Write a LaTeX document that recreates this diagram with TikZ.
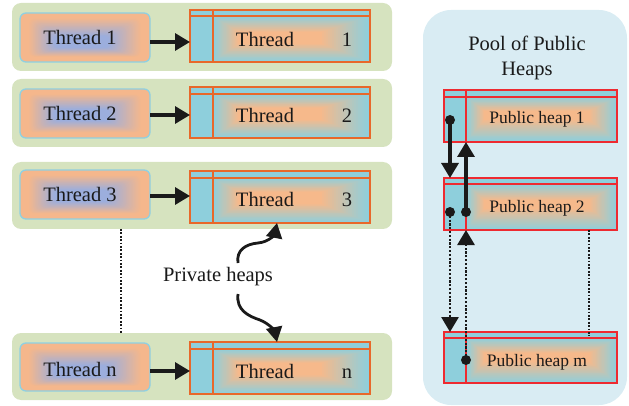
\documentclass[tikz,border=0pt]{standalone}
\usepackage{fontspec}
\setmainfont{Liberation Serif}
\usetikzlibrary{arrows.meta}
\definecolor{rowgreen}{HTML}{D6E3BF}
\definecolor{tor}{HTML}{F5B78C}
\definecolor{tbl}{HTML}{9CAEDD}
\definecolor{tedge}{HTML}{8FD0E2}
\definecolor{hbl}{HTML}{8ECFDC}
\definecolor{hor}{HTML}{F6B98B}
\definecolor{hedge}{HTML}{E8682A}
\definecolor{pedge}{HTML}{EE2A30}
\definecolor{pool}{HTML}{D9ECF3}
\definecolor{ink}{HTML}{1A1A1A}
\newcommand\gbox[9][]{%
  \foreach \gi in {0,...,24}{%
    \pgfmathsetmacro\gt{\gi/24}%
    \pgfmathsetmacro\gax{#2+((#6)-(#2))*\gt}%
    \pgfmathsetmacro\gay{#3+((#7)-(#3))*\gt}%
    \pgfmathsetmacro\gbx{#4+((#8)-(#4))*\gt}%
    \pgfmathsetmacro\gby{#5+((#9)-(#5))*\gt}%
    \pgfmathtruncatemacro\gp{100*\gt}%
    \fill[gin!\gp!gout,#1] (\gax,\gay) rectangle (\gbx,\gby);
  }}
\begin{document}
\begin{tikzpicture}[x=1pt,y=-1pt,
  txt/.style={font=\fontsize{20.5}{25}\selectfont, text=ink, inner sep=0pt, anchor=base},
  ptxt/.style={font=\fontsize{17.5}{21}\selectfont, text=ink, inner sep=0pt, anchor=base},
  greenrow/.style={fill=rowgreen, rounded corners=9pt, minimum width=380pt, inner sep=0pt, outer sep=0pt},
  threadbox/.style={draw=tedge, line width=1.3pt, rounded corners=6pt, minimum width=130pt, inner sep=0pt, outer sep=0pt},
  heapbox/.style={draw=hedge, line width=1.8pt, minimum width=180pt, inner sep=0pt, outer sep=0pt},
  heapline/.style={draw=hedge, line width=1.5pt},
  pubbox/.style={draw=pedge, line width=1.5pt, minimum width=173pt, inner sep=0pt, outer sep=0pt},
  publine/.style={draw=pedge, line width=1.5pt},
  arr/.style={line width=3.2pt, ink, -{Triangle[length=15pt,width=17pt]}},
  dotarr/.style={line width=2.8pt, ink, dash pattern=on 2.2pt off 1.6pt, -{Triangle[length=15pt,width=17pt]}},
  dotline/.style={line width=2pt, ink, dash pattern=on 1.8pt off 1.6pt},
  curvy/.style={line width=2.8pt, ink, -{Triangle[length=15pt,width=16pt]}},
  dotmark/.style={fill=ink}
]
\useasboundingbox (0,0) rectangle (629,406);
% ---------------- threads and private heaps
\foreach \n/\gA/\gB/\tA/\tB/\hA/\hM/\hB/\ay/\lb/\hbase in {
  1/3/71/13/62/10/16/62/42/45/47,
  2/79/147/89/138/87/94/138/115/121/123,
  3/162/229/170/219/171/178/223/196/202/207,
  n/333/400/343/391/342/349/394/371/376/378}{
  \pgfmathsetmacro\gh{\gB-\gA}
  \pgfmathsetmacro\gc{(\gA+\gB)/2}
  \node[greenrow, minimum height=\gh pt] (g\n) at (202,\gc) {};
  % thread box
  \fill[tor, rounded corners=6pt] (20,\tA) rectangle (150,\tB);
  \colorlet{gout}{tor}\colorlet{gin}{tbl}
  \gbox[rounded corners=5pt]{28}{\tA+5}{142}{\tB-5}{54}{\ay-6}{110}{\ay+6}
  \pgfmathsetmacro\th{\tB-\tA}
  \pgfmathsetmacro\tc{(\tA+\tB)/2}
  \node[threadbox, minimum height=\th pt] (t\n) at (85,\tc) {};
  \node[txt] (tl\n) at (80,\lb) {Thread \n};
  % private heap box
  \fill[hbl] (190,\hA) rectangle (370,\hB);
  \colorlet{gout}{hbl}\colorlet{gin}{hor}
  \gbox{213}{\hM}{370}{\hB}{238}{\hbase-15}{322}{\hbase-3}
  \pgfmathsetmacro\hh{\hB-\hA}
  \pgfmathsetmacro\hc{(\hA+\hB)/2}
  \node[heapbox, minimum height=\hh pt] (h\n) at (280,\hc) {};
  \draw[heapline] (190,\hM) -- (370,\hM);
  \draw[heapline] (213,\hA) -- (213,\hB);
  \node[txt] (ht\n) at (265,\hbase) {Thread};
  \node[txt] (hn\n) at (347,\hbase) {\n};
  % arrow
  \draw[arr] (t\n.east |- 0,\ay) -- (h\n.west |- 0,\ay);
}
% dotted continuation between thread 3 and thread n
\draw[dotline] ([xshift=-81pt]g3.south) -- ([xshift=-81pt]gn.north);
% private heaps label
\node[txt, anchor=center] (ph) at (218,277) {Private heaps};
\draw[curvy] ([shift={(20,-14)}]ph.center) .. controls +(-2,-13) and +(-12,1) .. ([shift={(40,-34)}]ph.center)
   .. controls +(12,-1) and +(-2,10) .. ([xshift=-3pt]h3.south);
\draw[curvy] ([shift={(20,17)}]ph.center) .. controls +(-2,16) and +(-12,-4) .. ([shift={(42,43)}]ph.center)
   .. controls +(10,4) and +(-2,-10) .. ([xshift=-3pt]hn.north);
% ---------------- pool of public heaps
\fill[pool, rounded corners=28pt] (423,10) rectangle (627,405);
\node[font=\fontsize{20.5}{25}\selectfont, text=ink, align=center, inner sep=0pt] (pooltitle) at (527,58) {Pool of Public\\Heaps};
\foreach \n/\A/\M/\B/\base in {1/90/97/142/124, 2/178/184/230/213, m/332/338/383/366}{
  \fill[hbl] (444,\A) rectangle (617,\B);
  \colorlet{gout}{hbl}\colorlet{gin}{hor}
  \gbox{466}{\M}{617}{\B}{484}{\base-13}{590}{\base-4}
  \pgfmathsetmacro\ph{\B-\A}
  \pgfmathsetmacro\pc{(\A+\B)/2}
  \node[pubbox, minimum height=\ph pt] (p\n) at (530.5,\pc) {};
  \draw[publine] (444,\M) -- (617,\M);
  \draw[publine] (466,\A) -- (466,\B);
  \node[ptxt] (pt\n) at (537,\base) {Public heap \n};
}
% dots
\coordinate (d1) at (450,120);
\coordinate (d2a) at (450,212);
\coordinate (d2b) at (466,212);
\coordinate (dm) at (466,360);
\draw[arr] (d1) -- (d1 |- p2.north);
\draw[arr] (d2b) -- (d2b |- p1.south);
\draw[dotarr] (d2a) -- (d2a |- pm.north);
\draw[dotarr] (dm) -- (dm |- p2.south);
\draw[dotline] ([xshift=58.5pt]p2.south) -- ([xshift=58.5pt,yshift=-4pt]pm.north);
\foreach \d in {d1,d2a,d2b,dm}{\fill[dotmark] (\d) circle (5pt);}
\end{tikzpicture}
\end{document}
